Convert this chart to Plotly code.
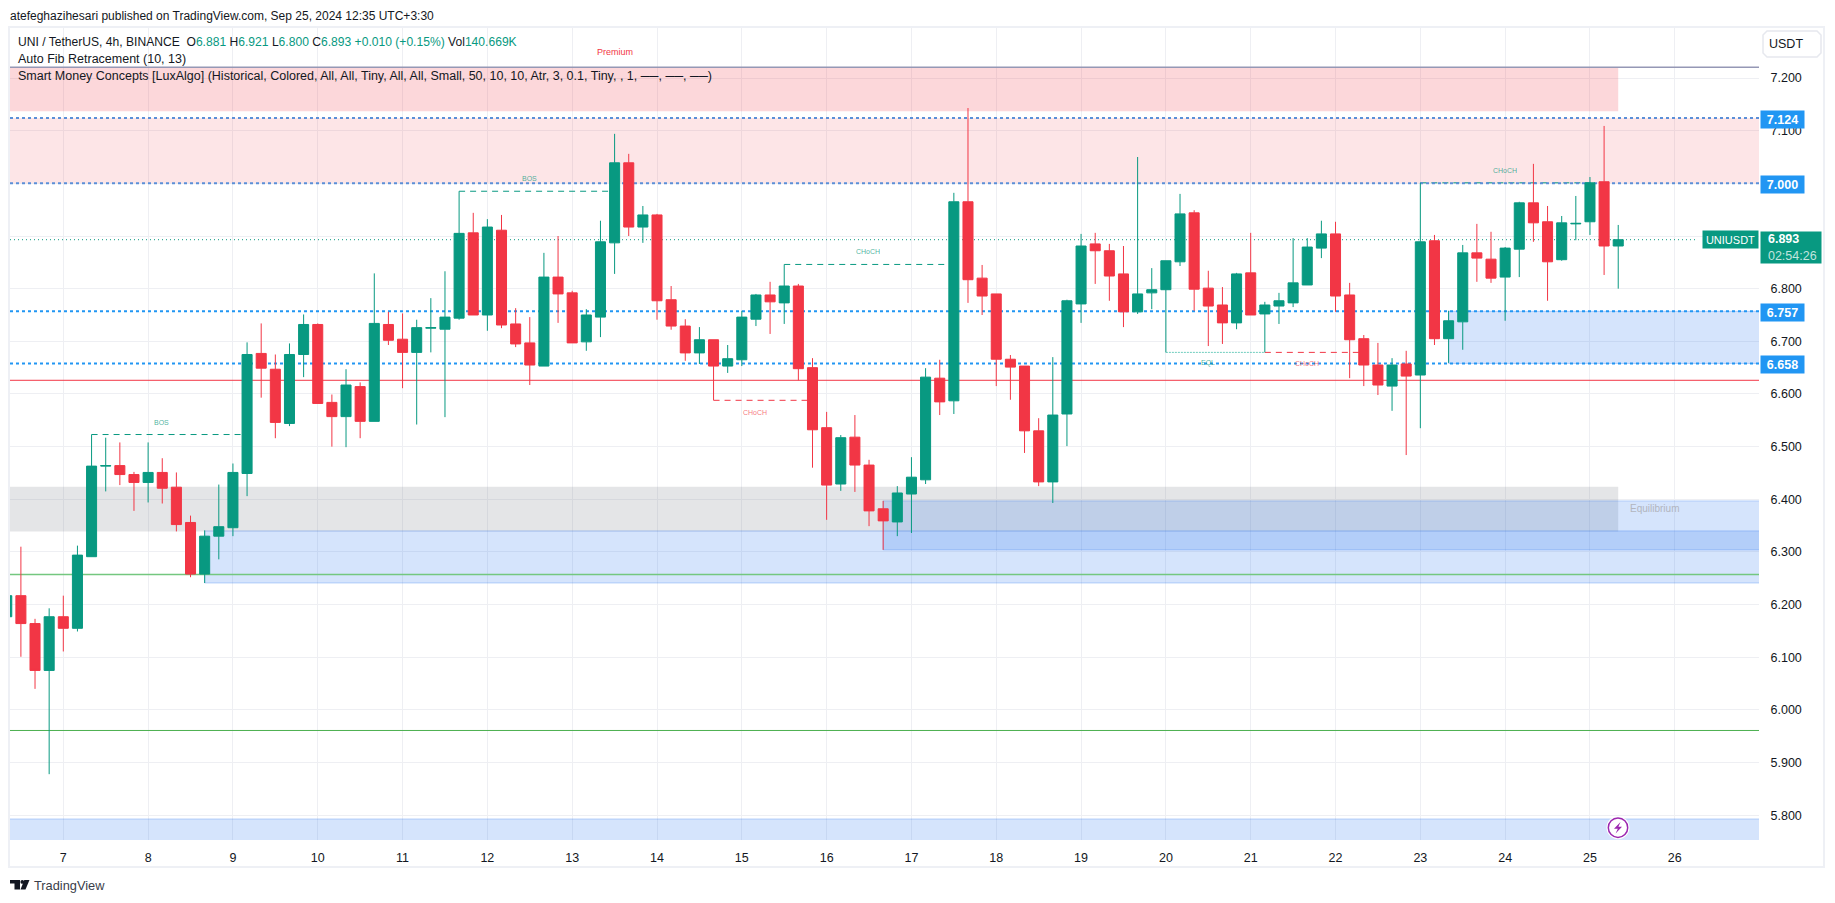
import pandas as pd
import plotly.graph_objects as go

# ---------- data ----------
opens = [6.177,6.217,6.164,6.075,6.177,6.155,6.291,6.463,6.464,6.447,6.432,6.451,6.423,6.356,6.258,6.330,6.346,6.449,6.677,6.647,
6.544,6.675,6.732,6.584,6.557,6.614,6.548,6.732,6.704,6.679,6.725,6.723,6.744,6.906,6.750,6.911,6.733,6.697,6.653,6.822,
6.792,6.699,6.746,6.887,7.039,6.917,6.940,6.779,6.729,6.678,6.703,6.653,6.665,6.742,6.788,6.773,6.805,6.650,6.536,6.429,
6.518,6.465,6.382,6.357,6.410,6.437,6.630,6.587,6.965,6.820,6.790,6.666,6.653,6.530,6.433,6.562,6.771,6.885,6.872,6.828,
6.756,6.792,6.798,6.851,6.944,6.801,6.769,6.735,6.830,6.752,6.767,6.773,6.807,6.877,6.904,6.788,6.705,6.655,6.615,6.657,
6.636,6.891,6.705,6.737,6.868,6.856,6.822,6.875,6.963,6.927,6.855,6.923,6.927,7.003,6.881]
highs = [6.220,6.310,6.173,6.193,6.217,6.312,6.523,6.517,6.508,6.452,6.508,6.478,6.451,6.369,6.341,6.428,6.468,6.698,6.734,6.675,
6.696,6.751,6.734,6.599,6.647,6.622,6.829,6.756,6.753,6.741,6.782,6.833,6.985,6.944,6.932,6.940,6.763,6.746,6.868,6.900,
6.796,6.761,6.929,7.094,7.056,6.957,6.942,6.805,6.742,6.727,6.703,6.693,6.758,6.790,6.813,6.846,6.809,6.668,6.566,6.522,
6.560,6.475,6.397,6.425,6.480,6.649,6.665,6.982,7.143,6.845,6.790,6.674,6.653,6.554,6.670,6.779,6.904,6.906,6.885,6.881,
7.050,6.839,6.853,6.980,6.949,6.834,6.803,6.830,6.906,6.775,6.792,6.896,6.896,6.929,6.927,6.811,6.712,6.697,6.668,6.682,
7.001,6.902,6.758,6.883,6.923,6.908,6.879,6.965,7.037,6.957,6.938,6.976,7.012,7.109,6.921]
lows = [6.170,6.101,6.040,5.878,6.111,6.149,6.291,6.415,6.427,6.378,6.394,6.392,6.339,6.252,6.241,6.286,6.330,6.406,6.593,6.516,
6.539,6.632,6.582,6.500,6.499,6.516,6.548,6.693,6.611,6.542,6.679,6.556,6.741,6.750,6.720,6.725,6.689,6.617,6.653,6.735,
6.697,6.682,6.708,6.828,6.900,6.887,6.741,6.722,6.663,6.657,6.588,6.640,6.653,6.729,6.714,6.733,6.626,6.460,6.361,6.416,
6.414,6.349,6.304,6.330,6.336,6.429,6.560,6.562,6.773,6.750,6.615,6.589,6.488,6.425,6.393,6.501,6.735,6.809,6.777,6.727,
6.752,6.761,6.679,6.843,6.758,6.691,6.695,6.723,6.750,6.679,6.733,6.765,6.807,6.858,6.756,6.630,6.615,6.598,6.568,6.484,
6.535,6.693,6.659,6.684,6.813,6.811,6.739,6.822,6.889,6.777,6.853,6.892,6.902,6.826,6.800]
closes = [6.217,6.164,6.075,6.177,6.155,6.294,6.463,6.464,6.447,6.432,6.451,6.421,6.352,6.258,6.330,6.348,6.451,6.675,6.649,6.546,
6.675,6.732,6.582,6.557,6.617,6.548,6.734,6.702,6.679,6.726,6.726,6.746,6.905,6.750,6.917,6.731,6.695,6.655,6.822,6.790,
6.697,6.750,6.889,7.039,6.917,6.940,6.777,6.729,6.678,6.703,6.653,6.667,6.746,6.788,6.775,6.805,6.648,6.532,6.427,6.517,
6.465,6.378,6.359,6.412,6.442,6.632,6.585,6.965,6.817,6.786,6.666,6.651,6.530,6.433,6.560,6.777,6.881,6.872,6.824,6.756,
6.790,6.798,6.853,6.942,6.799,6.767,6.735,6.828,6.750,6.769,6.777,6.811,6.879,6.904,6.786,6.703,6.655,6.617,6.655,6.634,
6.889,6.705,6.739,6.868,6.858,6.820,6.877,6.963,6.925,6.851,6.925,6.924,7.001,6.881,6.893]
times = pd.date_range("2024-09-06 08:00", periods=len(opens), freq="4h")

y_ticks = [5.8,5.9,6.0,6.1,6.2,6.3,6.4,6.5,6.6,6.7,6.8,6.9,7.0,7.1,7.2]
y_hidden = [6.9, 7.0]  # covered by the price labels in the reference
day_numbers = list(range(7, 27))
day_dates = [pd.Timestamp(2024, 9, d) for d in day_numbers]

X_START, X_END = "2024-09-06 08:55", "2024-09-26 23:50"
Y_RANGE = [5.753, 7.295]

resistance_level, fib_top, fib_mid_up, fib_mid_dn, last_price = 7.124, 7.000, 6.757, 6.658, 6.893
premium_top, premium_bot = 7.2196, 7.137
top_line = 7.2205
red_level, green_level_a, green_level_b = 6.626, 6.257, 5.961
equilibrium_top, equilibrium_bot = 6.424, 6.339
ob_a = (6.340, 6.241, 14)
ob_b = (6.397, 6.304, 62)
ob_c = (fib_mid_up, fib_mid_dn, 102)
ob_bottom = (5.793, 5.74)

GREEN, RED = "#089981", "#F23645"
BLUE, BLUE_DIM = "#2196F3", "#5B8FD8"
TEXT = "#131722"
FONT = "Liberation Sans"
BAND_BLUE = "rgba(33,110,240,0.19)"
BAND_EDGE = "rgba(33,110,240,0.28)"
TAG_GREEN = "rgba(8,153,129,0.75)"
TAG_RED = "rgba(242,54,69,0.7)"

# ---------- pixel helpers for the page furniture ----------
L, R, T, B = 10, 1759, 28, 840
fx = lambda v: (v - L) / (R - L)
fy = lambda v: (B - v) / (B - T)


def poly(points):
    head = "M" + " L".join(f"{fx(a):.5f},{fy(b):.5f}" for a, b in points)
    return head + " Z"


shapes = []


def band(x0, x1, y0, y1, fill, edge=None):
    shapes.append(dict(type="rect", layer="between", xref="x", yref="y", x0=x0, x1=x1, y0=y0, y1=y1,
                       fillcolor=fill, line=dict(color=edge or "rgba(0,0,0,0)", width=1 if edge else 0)))


def level(y, color, width=1, dash="solid", x0=X_START, x1=X_END):
    shapes.append(dict(type="line", layer="between", xref="x", yref="y", x0=x0, x1=x1, y0=y, y1=y,
                       line=dict(color=color, width=width, dash=dash)))


band(X_START, times[114], premium_bot, premium_top, "rgba(242,54,69,0.20)")
band(X_START, X_END, fib_top, resistance_level, "rgba(242,54,69,0.13)")
band(X_START, times[114], equilibrium_bot, equilibrium_top, "rgba(120,123,134,0.20)")
for top, bot, start in (ob_a, ob_b, ob_c):
    band(times[start], "2024-09-28", bot, top, BAND_BLUE, BAND_EDGE)
band("2024-09-05", "2024-09-28", ob_bottom[1], ob_bottom[0], BAND_BLUE, BAND_EDGE)

level(top_line, "#9598B5", 1.5)
level(red_level, RED, 1)
level(green_level_a, "#74C77F", 1.5)
level(green_level_b, "#4CAF50", 1)
level(7.001, GREEN, 1, "6px,5px", times[100], times[112])
level(resistance_level, BLUE_DIM, 2, "3px,3px")
level(fib_top, BLUE_DIM, 2, "3px,3px")
level(fib_mid_up, BLUE, 2, "3px,3px")
level(fib_mid_dn, BLUE, 2, "3px,3px")
level(last_price, GREEN, 1, "1px,3px", x1="2024-09-26 06:00")

# market structure segments
level(6.523, GREEN, 1, "6px,5px", times[6], times[17])
level(6.985, GREEN, 1, "6px,5px", times[32], times[43])
level(6.846, GREEN, 1, "6px,5px", times[55], times[67])
level(6.588, RED, 1, "6px,5px", times[50], times[57])
level(6.679, "#6FCDBE", 1, "2px,1px", times[82], times[89])
level(6.679, RED, 1, "6px,5px", times[89], times[96])

# frame, top-right button, lightning badge, logo
shapes.append(dict(type="rect", layer="above", xref="paper", yref="paper", x0=fx(9), x1=fx(1824), y0=fy(867), y1=fy(27),
                   line=dict(color="#EEF0F5", width=2), fillcolor="rgba(0,0,0,0)"))
shapes.append(dict(type="path", layer="above", xref="paper", yref="paper",
                   path=poly([(1767, 31), (1817, 31), (1821, 35), (1821, 53), (1817, 57), (1767, 57), (1763, 53), (1763, 35)]),
                   line=dict(color="#E6E8EE", width=1.5), fillcolor="#FFFFFF"))
shapes.append(dict(type="circle", layer="above", xref="paper", yref="paper", x0=fx(1606.5), x1=fx(1629.5), y0=fy(839.2), y1=fy(816.2),
                   line=dict(width=0), fillcolor="#FFFFFF"))
shapes.append(dict(type="circle", layer="above", xref="paper", yref="paper", x0=fx(1608.3), x1=fx(1627.7), y0=fy(837.4), y1=fy(818),
                   line=dict(color="#9C27B0", width=1.5), fillcolor="#FFFFFF"))
shapes.append(dict(type="path", layer="above", xref="paper", yref="paper",
                   path=poly([(1620.5, 822), (1614, 828.7), (1617.8, 828.7), (1615.6, 833.5), (1622, 826.8), (1618.4, 826.8)]),
                   line=dict(width=0), fillcolor="#9C27B0"))
for pts in ([(10, 880), (20, 880), (20, 889.5), (14.5, 889.5), (14.5, 883.6), (10, 883.6)],
            [(24.3, 880), (29.5, 880), (25.5, 889.5), (20.5, 889.5)]):
    shapes.append(dict(type="path", layer="above", xref="paper", yref="paper", path=poly(pts),
                       line=dict(width=0), fillcolor=TEXT))
shapes.append(dict(type="circle", layer="above", xref="paper", yref="paper", x0=fx(20.4), x1=fx(24.2), y0=fy(883.8), y1=fy(880),
                   line=dict(width=0), fillcolor=TEXT))

annotations = []


def page_text(px, py, text, size=12.5, color=TEXT, anchor="left"):
    annotations.append(dict(xref="paper", yref="paper", x=fx(px), y=fy(py), xanchor=anchor, yanchor="middle",
                            text=text, showarrow=False, font=dict(family=FONT, size=size, color=color)))


def chart_text(x, y, text, color, size=7):
    annotations.append(dict(xref="x", yref="y", x=x, y=y, xanchor="center", yanchor="middle",
                            text=text, showarrow=False, font=dict(family=FONT, size=size, color=color)))


def g(s):
    return f"<span style='color:{GREEN}'>{s}</span>"


page_text(8, 16, "atefeghazihesari published on TradingView.com, Sep 25, 2024 12:35 UTC+3:30", 12)
page_text(16, 41.5, "UNI / TetherUS, 4h, BINANCE  O" + g("6.881") + " H" + g("6.921") + " L" + g("6.800") + " C" + g("6.893")
          + " " + g("+0.010 (+0.15%)") + " Vol" + g("140.669K"), 12.1)
page_text(16, 59, "Auto Fib Retracement (10, 13)")
page_text(16, 76, "Smart Money Concepts [LuxAlgo] (Historical, Colored, All, All, Tiny, All, All, Small, 50, 10, 10, Atr, 3, 0.1, Tiny, , 1, ──, ──, ──)")
page_text(32, 885.5, "TradingView", 12.8, "#3A3E4A")
page_text(1786, 44, "USDT", 12.5, TEXT, "center")

chart_text("2024-09-13 12:00", 7.249, "Premium", RED, 9)
chart_text("2024-09-25 18:20", 6.382, "Equilibrium", "#B2B5BE", 10)
chart_text("2024-09-08 03:50", 6.545, "BOS", TAG_GREEN)
chart_text("2024-09-12 11:50", 7.009, "BOS", TAG_GREEN)
chart_text("2024-09-16 11:40", 6.871, "CHoCH", TAG_GREEN)
chart_text("2024-09-15 03:40", 6.565, "CHoCH", TAG_RED)
chart_text("2024-09-20 12:00", 6.658, "EQL", TAG_GREEN)
chart_text("2024-09-21 16:00", 6.658, "CHoCH", TAG_RED)
chart_text("2024-09-24 00:00", 7.025, "CHoCH", TAG_GREEN)

for v in (resistance_level, fib_top, fib_mid_up, fib_mid_dn):
    annotations.append(dict(xref="paper", yref="y", x=1, y=v, xanchor="left", yanchor="middle", xshift=1, yshift=-1,
                            text=f"<b>{v:.3f}</b>", showarrow=False, width=43, height=17, borderpad=0, bgcolor=BLUE,
                            font=dict(family=FONT, size=12.5, color="#FFFFFF")))
annotations.append(dict(xref="paper", yref="y", x=1, y=last_price, xanchor="right", yanchor="middle",
                        text="UNIUSDT", showarrow=False, width=55, height=17, borderpad=0, bgcolor=GREEN,
                        font=dict(family=FONT, size=11, color="#FFFFFF")))
annotations.append(dict(xref="paper", yref="y", x=1, y=last_price, xanchor="left", yanchor="top", xshift=1, yshift=9,
                        text=f"\u00a0\u00a0<b>{last_price:.3f}</b><br>\u00a0\u00a0<span style='color:rgba(255,255,255,0.75)'>02:54:26</span>",
                        align="left", showarrow=False, width=60, height=31, borderpad=0, bgcolor=GREEN,
                        font=dict(family=FONT, size=12.5, color="#FFFFFF")))

fig = go.Figure(go.Candlestick(
    x=times, open=opens, high=highs, low=lows, close=closes,
    increasing=dict(line=dict(color=GREEN, width=1), fillcolor=GREEN),
    decreasing=dict(line=dict(color=RED, width=1), fillcolor=RED),
    whiskerwidth=0, hoverinfo="skip", showlegend=False,
))
fig.update_layout(
    width=1835, height=903, margin=dict(l=L, r=1835 - R, t=T, b=903 - B, pad=0),
    paper_bgcolor="#FFFFFF", plot_bgcolor="#FFFFFF", boxgap=0.29, boxgroupgap=0, showlegend=False,
    font=dict(family=FONT, size=12, color=TEXT), shapes=shapes, annotations=annotations,
    xaxis=dict(type="date", range=[X_START, X_END], rangeslider=dict(visible=False), tickmode="array",
               tickvals=day_dates, ticktext=[str(d) for d in day_numbers], tickangle=0,
               showgrid=True, gridcolor="#EEEFF3", gridwidth=1, zeroline=False, showline=False,
               ticks="outside", ticklen=6, tickcolor="rgba(0,0,0,0)", tickfont=dict(size=12.5, color=TEXT)),
    yaxis=dict(side="right", range=Y_RANGE, tickmode="array", tickvals=y_ticks,
               ticktext=["" if v in y_hidden else f"{v:.3f}" for v in y_ticks],
               showgrid=True, gridcolor="#EEEFF3", gridwidth=1, zeroline=False, showline=False,
               ticks="outside", ticklen=8, tickcolor="rgba(0,0,0,0)", tickfont=dict(size=12.5, color=TEXT)),
)
fig.write_html("out.html", config=dict(displayModeBar=False),
               post_script="document.body.style.margin='0';document.body.style.overflow='hidden';")
